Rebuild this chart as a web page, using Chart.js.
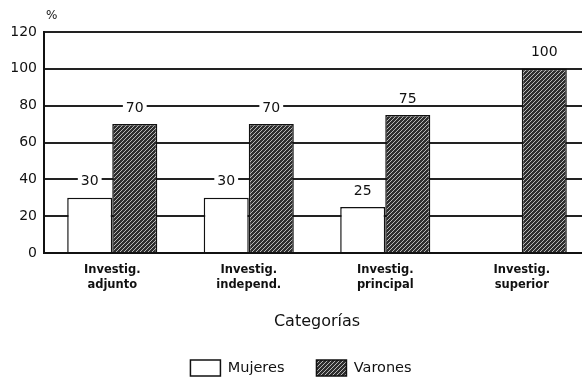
<!DOCTYPE html>
<html>
<head>
<meta charset="utf-8">
<script src="https://cdn.jsdelivr.net/npm/chart.js@4/dist/chart.umd.min.js"></script>
<style>
html,body{margin:0;padding:0;background:#fff;overflow:hidden;width:582px;height:383px;}
#wrap{position:absolute;left:0;top:0;width:594px;height:383px;}
</style>
</head>
<body>
<div id="wrap"><canvas id="c" width="594" height="383"></canvas></div>
<script>
const categories = [["Investig.","adjunto"],["Investig.","independ."],["Investig.","principal"],["Investig.","superior"]];
const mujeres = [30, 30, 25, null];
const varones = [70, 70, 75, 100];
const yTicks = [0, 20, 40, 60, 80, 100, 120];
const seriesNames = ["Mujeres", "Varones"];
const axisTitle = "Categorías";
const unitLabel = "%";

const FONT = '"DejaVu Sans", "Liberation Sans", Arial, sans-serif';

function hatch() {
  const t = document.createElement('canvas');
  t.width = 4; t.height = 4;
  const g = t.getContext('2d');
  g.fillStyle = '#2e2e2e';
  g.fillRect(0, 0, 4, 4);
  g.strokeStyle = '#b8b8b8';
  g.lineWidth = 1;
  g.beginPath();
  g.moveTo(0, 4); g.lineTo(4, 0);
  g.moveTo(-1, 1); g.lineTo(1, -1);
  g.moveTo(3, 5); g.lineTo(5, 3);
  g.stroke();
  return g.createPattern(t, 'repeat');
}
const pat = hatch();

const labelPlugin = {
  id: 'vals',
  afterDatasetsDraw(chart) {
    const ctx = chart.ctx;
    ctx.save();
    ctx.font = '14px ' + FONT;
    ctx.textAlign = 'center';
    ctx.textBaseline = 'middle';
    chart.data.datasets.forEach((ds, i) => {
      const meta = chart.getDatasetMeta(i);
      meta.data.forEach((bar, j) => {
        const v = ds.data[j];
        if (v === null || v === undefined) return;
        const txt = String(v);
        const y = bar.y - 16;
        const w = ctx.measureText(txt).width + 6;
        ctx.fillStyle = '#fff';
        ctx.fillRect(bar.x - w / 2, y - 6, w, 12);
        ctx.fillStyle = '#111';
        ctx.fillText(txt, bar.x, y);
      });
    });
    const ys = chart.scales.y;
    ctx.font = '12px ' + FONT;
    ctx.textAlign = 'left';
    ctx.fillText(unitLabel, ys.right + 2, chart.chartArea.top - 16);
    ctx.restore();
  }
};

new Chart(document.getElementById('c'), {
  type: 'bar',
  data: {
    labels: categories,
    datasets: [
      { label: seriesNames[0], data: mujeres, backgroundColor: '#fff', borderColor: '#111', borderWidth: 1.5 },
      { label: seriesNames[1], data: varones, backgroundColor: pat, borderColor: '#111', borderWidth: 1.5 }
    ]
  },
  options: {
    responsive: false,
    animation: false,
    layout: { padding: { top: 32, right: 4, left: 12, bottom: -3 } },
    datasets: { bar: { categoryPercentage: 0.66, barPercentage: 1.0 } },
    plugins: {
      legend: {
        position: 'bottom',
        labels: {
          boxWidth: 30, boxHeight: 16, padding: 32,
          color: '#111',
          font: { size: 14.5, family: FONT }
        }
      },
      tooltip: { enabled: false }
    },
    scales: {
      x: {
        afterFit(s) { s.height = 75; },
        grid: { display: false, drawTicks: false },
        border: { display: true, color: '#111', width: 2 },
        ticks: {
          color: '#111', padding: 9,
          font: { size: 11.5, weight: 'bold', family: FONT, lineHeight: 1.35 }
        },
        title: {
          display: true, text: axisTitle, color: '#111',
          font: { size: 16, family: FONT },
          padding: { top: 0, bottom: -3 }
        }
      },
      y: {
        min: 0, max: 120,
        afterBuildTicks(s) { s.ticks = yTicks.map(v => ({ value: v })); },
        afterFit(s) { s.width = 32; },
        grid: { color: '#222', lineWidth: 2, drawTicks: false },
        border: { display: true, color: '#111', width: 2 },
        ticks: {
          color: '#111', padding: 7,
          font: { size: 14, family: FONT }
        }
      }
    }
  },
  plugins: [labelPlugin]
});
</script>
</body>
</html>
